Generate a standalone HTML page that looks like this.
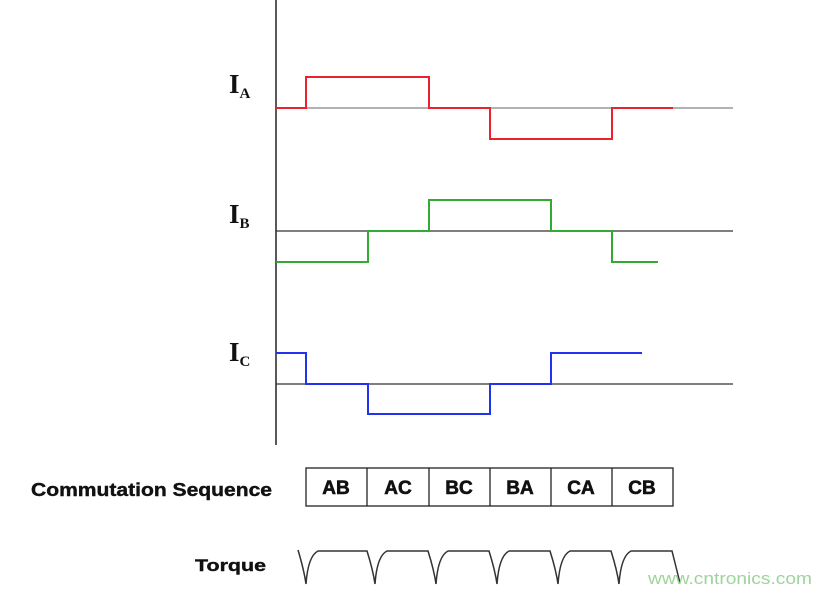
<!DOCTYPE html>
<html><head><style>body{margin:0;background:#fff}svg{display:block}</style></head><body>
<svg width="833" height="594" xmlns="http://www.w3.org/2000/svg">
<line x1="276" y1="0" x2="276" y2="445" stroke="#222" stroke-width="1.5"/>
<g stroke="#999" stroke-width="1.5">
<line x1="276" y1="108" x2="733" y2="108"/>
</g>
<g stroke="#333" stroke-width="1.3">
<line x1="276" y1="231" x2="733" y2="231"/>
<line x1="276" y1="384" x2="733" y2="384"/>
</g>
<g fill="none" stroke-width="2">
<polyline stroke="#e8222e" points="276,108 306,108 306,77 429,77 429,108 490,108 490,139 612,139 612,108 673,108"/>
<polyline stroke="#3a3" points="276,262 368,262 368,231 429,231 429,200 551,200 551,231 612,231 612,262 658,262"/>
<polyline stroke="#2233ee" points="276,353 306,353 306,384 368,384 368,414 490,414 490,384 551,384 551,353 642,353"/>
</g>
<g font-family="Liberation Serif,serif" font-weight="bold" fill="#111">
<text x="229" y="93" font-size="27">I<tspan font-size="15" dy="5">A</tspan></text>
<text x="229" y="223" font-size="27">I<tspan font-size="15" dy="5">B</tspan></text>
<text x="229" y="361" font-size="27">I<tspan font-size="15" dy="5">C</tspan></text>
</g>
<g font-family="Liberation Sans,sans-serif" font-weight="bold" fill="#111" stroke="#111" stroke-width="0.4">
<text x="31" y="496" font-size="18" textLength="241" lengthAdjust="spacingAndGlyphs">Commutation Sequence</text>
<text x="195" y="571" font-size="17" textLength="71" lengthAdjust="spacingAndGlyphs">Torque</text>
</g>
<rect x="306" y="468" width="367" height="38" fill="none" stroke="#222" stroke-width="1.3"/>
<g stroke="#222" stroke-width="1.3">
<line x1="367" y1="468" x2="367" y2="506"/><line x1="429" y1="468" x2="429" y2="506"/>
<line x1="490" y1="468" x2="490" y2="506"/><line x1="551" y1="468" x2="551" y2="506"/>
<line x1="612" y1="468" x2="612" y2="506"/>
</g>
<g font-family="Liberation Sans,sans-serif" font-weight="bold" font-size="19" fill="#111" stroke="#111" stroke-width="0.6" text-anchor="middle">
<text x="336" y="494">AB</text><text x="398" y="494">AC</text><text x="459" y="494">BC</text>
<text x="520" y="494">BA</text><text x="581" y="494">CA</text><text x="642" y="494">CB</text>
</g>
<path fill="none" stroke="#333" stroke-width="1.5" d="M298,550 Q304,570 306,584 Q308,556 318,551 L367,551 Q373,570 375,584 Q377,556 387,551 L428,551 Q434,570 436,584 Q438,556 448,551 L489,551 Q495,570 497,584 Q499,556 509,551 L550,551 Q556,570 558,584 Q560,556 570,551 L611,551 Q617,570 619,584 Q621,556 631,551 L672,551 L680,583"/>
<text x="648" y="584" font-family="Liberation Sans,sans-serif" font-size="17" fill="#9fd49a" textLength="164" lengthAdjust="spacingAndGlyphs">www.cntronics.com</text>
</svg>
</body></html>
